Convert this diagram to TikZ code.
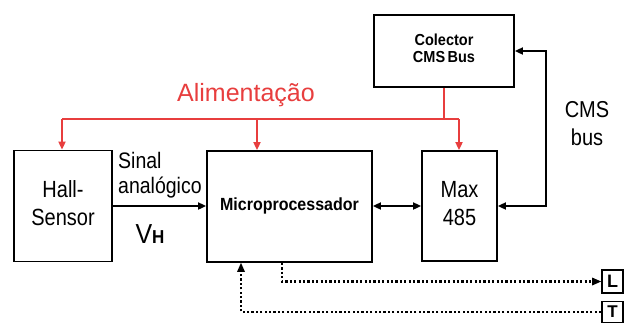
\documentclass[tikz,border=0pt]{standalone}
\usepackage{fontspec}
\setmainfont{Liberation Sans}
\usetikzlibrary{arrows.meta,calc}
\definecolor{pwr}{RGB}{232,62,62}
\newcommand\vsc[3]{\scalebox{1}[#1]{\begin{tabular}{@{}#2@{}}#3\end{tabular}}}
\tikzset{
  blk/.style={draw=black,line width=1.8pt,fill=white,inner sep=0pt,align=center},
  conn/.style={line width=1.8pt,-{Triangle[length=8pt,width=7pt]}},
  dconn/.style={line width=1.8pt,{Triangle[length=8pt,width=7pt]}-{Triangle[length=8pt,width=7pt]}},
  pline/.style={draw=pwr,line width=1.8pt},
  parr/.style={pline,-{Triangle[length=8pt,width=7pt]}},
  dotl/.style={line width=2.2pt,dash pattern=on 2.2pt off 2.2pt},
  txt/.style={font=\fontsize{20}{23.5}\selectfont,align=center,inner sep=0pt},
}
\begin{document}
\begin{tikzpicture}[x=1pt,y=-1pt]
\useasboundingbox[fill=white] (0,0) rectangle (626,322);
\node[blk,minimum width=98pt,minimum height=111pt,txt] (hall) at (63,206) {\vsc{1.17}{c}{Hall-\\Sensor}};
\node[blk,minimum width=165pt,minimum height=111pt,font=\fontsize{16}{19}\selectfont\bfseries] (micro) at (289.5,206.5) {\vsc{1.1}{c}{Microprocessador}};
\node[blk,minimum width=75pt,minimum height=110pt,txt] (max) at (459.5,206) {\vsc{1.17}{c}{Max\\485}};
\node[blk,minimum width=140pt,minimum height=72pt,font=\fontsize{14.5}{15.5}\selectfont\bfseries] (coll) at (444,51) {\vsc{1.1}{c}{Colector\\CMS\,Bus}};
\node[blk,minimum width=21pt,minimum height=23pt,font=\fontsize{18}{20}\selectfont\bfseries] (L) at (612.5,281.5) {L};
\node[blk,minimum width=21pt,minimum height=21pt,font=\fontsize{17}{20}\selectfont\bfseries] (T) at (612.5,312) {T};
% texts
\node[txt,text=pwr,font=\fontsize{25}{28}\selectfont] (alim) at (246,95) {Alimentação};
\node[txt,anchor=west,font=\fontsize{19.5}{21.5}\selectfont] (sinal) at (118,176) {\vsc{1.15}{l}{Sinal\\analógico}};
\node[inner sep=0pt] (vh) at (150,234) {\scalebox{1}[1.1]{\fontsize{25}{28}\selectfont V\fontsize{17}{20}\selectfont\bfseries H}};
\node[txt,font=\fontsize{20}{24}\selectfont] (cms) at (587,126) {\vsc{1.15}{c}{CMS\\bus}};
% power lines
\coordinate (bus) at (coll.south |- 0,119);
\coordinate (busL) at (62,119);
\coordinate (busR) at (459,119);
\draw[pline] (coll.south) -- (bus);
\draw[pline] (busL) -- (busR);
\draw[parr] (busL) -- (busL |- hall.north);
\draw[parr] (257,119) -- (micro.north -| 257,0);
\draw[parr] (busR) -- (busR |- max.north);
% signal connectors
\draw[conn] (hall.east) -- (micro.west |- hall.east);
\draw[dconn] (micro.east |- max.west) -- (max.west);
\draw[dconn] (max.east) -- ++(48,0) |- (coll.east);
% dotted
\draw[dotl] (micro.south -| 282,0) -- (282,281.5) -- ($(L.west)+(-7,0)$);
\fill ($(L.west)+(-9,-4)$) -- (L.west) -- ($(L.west)+(-9,4)$) -- cycle;
\draw[dotl] (T.west) -- (241,312) -- (241,271);
\fill (micro.south -| 241,0) -- ($(micro.south -| 241,0)+(-4,9)$) -- ($(micro.south -| 241,0)+(4,9)$) -- cycle;
\end{tikzpicture}
\end{document}
